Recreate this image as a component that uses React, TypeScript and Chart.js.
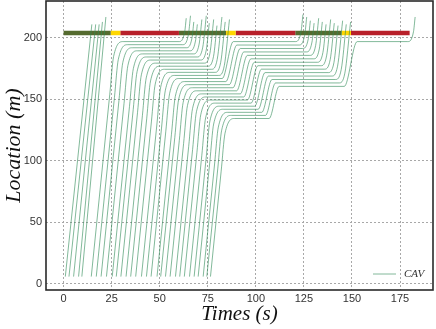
import React, { useEffect, useRef } from "react";
import { Chart, registerables } from "chart.js";

Chart.register(...registerables);

// ---- axis ticks ----
const xTicks = [0, 25, 50, 75, 100, 125, 150, 175];
const yTicks = [0, 50, 100, 150, 200];

// ---- common trajectory values ----
const entryLocation = 6;
const approachSpeed = 15.4;
const legendLabel = "CAV";

// vehicles that cross on the first green without stopping
const freeStart = [0.9, 2.8, 5.2, 7.8, 9.5];
const freeEndTime = [14.7, 16.7, 18.5, 20.2, 22.0];
const freeEndLoc = [211, 211, 211, 213, 217];

// vehicles that stop at the signal
const queueStart = [14.4, 17.0, 19.5, 22.3, 25.3, 27.4, 29.8, 32.5, 34.9, 37.5, 40.5, 43.1, 45.5, 48.6, 50.5, 53.0, 55.4, 58.2, 60.4, 62.8, 65.5, 67.9, 70.0, 72.6, 74.5, 76.4];
const stop1Loc = [197, 194.5, 192, 189.5, 187, 184.5, 182, 179.5, 177, 174.5, 172, 169.5, 167, 164.5, 162, 159.5, 157, 154.5, 152, 149.5, 147, 144.5, 142, 139.5, 137, 134.5];
const release1 = [60.0, 61.9, 63.8, 65.6, 67.5, 69.4, 71.2, 73.1, 75.0, 76.9, 78.7, 80.6, 82.5, 84.4, 86.2, 88.1, 90.0, 91.9, 93.7, 95.6, 97.5, 99.4, 101.2, 103.1, 105.0, 106.9];
const stop2Loc: (number | null)[] = [null, null, null, null, null, null, null, null, null, null, null, null, 197, 194.2, 191.4, 188.6, 185.8, 183, 180.2, 177.4, 174.6, 171.8, 169, 166.2, 163.4, 160.6];
const release2: (number | null)[] = [null, null, null, null, null, null, null, null, null, null, null, null, 120.5, 122.4, 124.3, 126.2, 128.1, 130.0, 131.9, 133.8, 135.7, 137.6, 139.5, 141.4, 143.3, 146.0];
const stop3Loc: (number | null)[] = [null, null, null, null, null, null, null, null, null, null, null, null, null, null, null, null, null, null, null, null, null, null, null, null, null, 197];
const release3: (number | null)[] = [null, null, null, null, null, null, null, null, null, null, null, null, null, null, null, null, null, null, null, null, null, null, null, null, null, 179];
const queueEndLoc = [216, 218, 213, 211, 215, 218, 212, 215, 210, 217, 213, 215, 219, 217, 214, 212, 216, 213, 211, 215, 212, 210, 214, 211, 213, 217];

// ---- signal timing ----
const signalLocation = 204;
const signalTimes = [0, 24.5, 29.5, 60, 84.5, 89.5, 120.5, 144.5, 149.5, 180];
const signalPhases = ["G", "Y", "R", "G", "Y", "R", "G", "Y", "R"];

// ---- styles ----
const phaseColor: Record<string, string> = { G: "#556b2f", Y: "#ffd700", R: "#b8202a" };
const trajColor = "rgba(46,139,87,0.6)";
const gridColor = "#a8a8a8";
const bendDrop = 12;
const brakeTime = 5;
const creepRate = 7;
const departSpeed = 14;

type Pt = { x: number; y: number };

function freeTrajectory(i: number): Pt[] {
  return [
    { x: freeStart[i], y: entryLocation },
    { x: freeEndTime[i], y: freeEndLoc[i] },
  ];
}

function queuedTrajectory(i: number): Pt[] {
  const pts: Pt[] = [];
  const t0 = queueStart[i];
  const L1 = stop1Loc[i];
  const tb = t0 + (L1 - bendDrop - entryLocation) / approachSpeed;
  pts.push({ x: t0, y: entryLocation });
  pts.push({ x: tb - 2, y: L1 - bendDrop - 2 * approachSpeed });
  pts.push({ x: tb, y: L1 - bendDrop });
  pts.push({ x: tb + brakeTime, y: L1 });
  pts.push({ x: release1[i], y: L1 });
  const stops: [number, number][] = [[L1, release1[i]]];
  if (stop2Loc[i] != null && release2[i] != null) stops.push([stop2Loc[i] as number, release2[i] as number]);
  if (stop3Loc[i] != null && release3[i] != null) stops.push([stop3Loc[i] as number, release3[i] as number]);
  let cur = L1;
  for (let k = 1; k < stops.length; k++) {
    const [loc, rel] = stops[k];
    const prevRel = stops[k - 1][1];
    pts.push({ x: prevRel + 1.5 + (loc - cur) / creepRate, y: loc });
    pts.push({ x: rel, y: loc });
    cur = loc;
  }
  const lastRel = stops[stops.length - 1][1];
  const end = queueEndLoc[i];
  pts.push({ x: lastRel + 3, y: cur + 8 });
  pts.push({ x: lastRel + 3 + (end - cur - 8) / departSpeed, y: end });
  return pts;
}

const frameAndLegend = {
  id: "frameAndLegend",
  afterDraw(chart: any) {
    const { ctx, chartArea } = chart;
    ctx.save();
    ctx.strokeStyle = "#2a2a2a";
    ctx.lineWidth = 1.6;
    ctx.strokeRect(chartArea.left, chartArea.top, chartArea.right - chartArea.left, chartArea.bottom - chartArea.top);
    const ly = chartArea.bottom - 16;
    ctx.strokeStyle = trajColor;
    ctx.lineWidth = 1;
    ctx.beginPath();
    ctx.moveTo(chartArea.right - 60, ly);
    ctx.lineTo(chartArea.right - 37, ly);
    ctx.stroke();
    ctx.fillStyle = "#333";
    ctx.font = "italic 11px 'Liberation Serif'";
    ctx.textBaseline = "middle";
    ctx.textAlign = "left";
    ctx.fillText(legendLabel, chartArea.right - 29, ly);
    ctx.restore();
  },
};

export default function App() {
  const ref = useRef<HTMLCanvasElement | null>(null);

  useEffect(() => {
    if (!ref.current) return;
    const datasets: any[] = [];
    freeStart.forEach((_, i) => {
      datasets.push({
        label: legendLabel,
        data: freeTrajectory(i),
        borderColor: trajColor,
        borderWidth: 1,
        pointRadius: 0,
        cubicInterpolationMode: "monotone",
        order: 0,
      });
    });
    queueStart.forEach((_, i) => {
      datasets.push({
        label: legendLabel,
        data: queuedTrajectory(i),
        borderColor: trajColor,
        borderWidth: 1,
        pointRadius: 0,
        cubicInterpolationMode: "monotone",
        order: 0,
      });
    });
    signalPhases.forEach((p, i) => {
      datasets.push({
        label: "signal " + p,
        data: [
          { x: signalTimes[i], y: signalLocation },
          { x: signalTimes[i + 1], y: signalLocation },
        ],
        borderColor: phaseColor[p],
        borderWidth: 4.5,
        borderCapStyle: "butt",
        pointRadius: 0,
        order: 1,
      });
    });

    const chart = new Chart(ref.current, {
      type: "line",
      data: { datasets },
      plugins: [frameAndLegend],
      options: {
        animation: false,
        responsive: false,
        layout: { padding: { top: 1, right: 3, left: 0, bottom: 0 } },
        plugins: { legend: { display: false }, tooltip: { enabled: false } },
        scales: {
          x: {
            type: "linear",
            min: -9.15,
            max: 192.15,
            afterBuildTicks: (s: any) => {
              s.ticks = xTicks.map((v) => ({ value: v }));
            },
            afterFit: (s: any) => {
              s.height = 39;
              s.paddingLeft = 0;
              s.paddingRight = 0;
            },
            grid: { color: gridColor, lineWidth: 1, drawTicks: false },
            border: { display: false, dash: [2, 2] },
            ticks: {
              padding: 2,
              maxRotation: 0,
              autoSkip: false,
              color: "#333",
              font: { family: "'Liberation Sans', Arial, sans-serif", size: 11 },
            },
            title: {
              display: true,
              text: "Times (s)",
              color: "#111",
              font: { family: "'Liberation Serif', 'Times New Roman', serif", size: 21, style: "italic" },
              padding: { top: 0, bottom: 2 },
            },
          },
          y: {
            type: "linear",
            min: -4.9,
            max: 230,
            afterBuildTicks: (s: any) => {
              s.ticks = yTicks.map((v) => ({ value: v }));
            },
            afterFit: (s: any) => {
              s.width = 46;
              s.paddingTop = 0;
              s.paddingBottom = 0;
            },
            grid: { color: gridColor, lineWidth: 1, drawTicks: false },
            border: { display: false, dash: [2, 2] },
            ticks: {
              padding: 4,
              autoSkip: false,
              color: "#333",
              font: { family: "'Liberation Sans', Arial, sans-serif", size: 11 },
            },
            title: {
              display: true,
              text: "Location (m)",
              color: "#111",
              font: { family: "'Liberation Serif', 'Times New Roman', serif", size: 22, style: "italic" },
              padding: { top: 1, bottom: 0 },
            },
          },
        },
      } as any,
    });
    return () => chart.destroy();
  }, []);

  return (
    <div style={{ position: "fixed", left: 0, top: 0, width: 436, height: 329, background: "#fff" }}>
      <canvas ref={ref} width={436} height={329} style={{ display: "block", width: 436, height: 329 }} />
    </div>
  );
}
